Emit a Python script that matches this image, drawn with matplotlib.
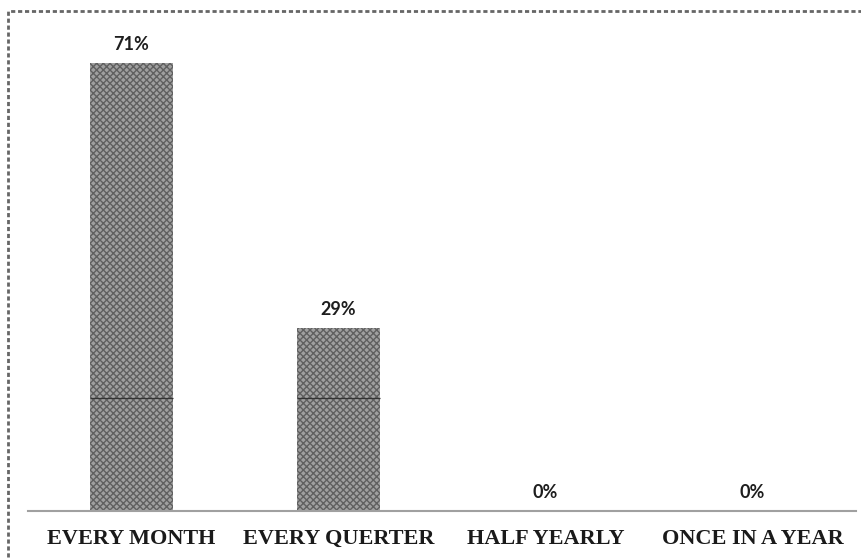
import matplotlib.pyplot as plt
from matplotlib.patches import Rectangle

# как часто проводится — доли ответов
categories = ['EVERY MONTH', 'EVERY QUERTER', 'HALF YEARLY', 'ONCE IN A YEAR']
shares = [71, 29, 0, 0]
value_labels = ['71%', '29%', '0%', '0%']
inner_line_level = 17.9  # тонкая полоска внутри столбиков

fig = plt.figure(figsize=(8.62, 5.6), dpi=100)
ax = fig.add_axes([0.0325, 0.0875, 0.9605, 0.845])

x = range(len(categories))
bars = ax.bar(x, shares, width=0.4, color='#a0a0a0', edgecolor='#606060',
              linewidth=0, hatch='xxxxx')

# полоска поперёк столбиков, если они до неё дотягивают
for b in bars:
    if b.get_height() > inner_line_level:
        ax.hlines(inner_line_level, b.get_x(), b.get_x() + b.get_width(),
                  color='#333333', linewidth=0.9, zorder=3)

# подписи процентов над столбиками
for b, lab in zip(bars, value_labels):
    ax.annotate(lab, (b.get_x() + b.get_width() / 2, b.get_height()),
                xytext=(0, 7), textcoords='offset points', ha='center',
                va='bottom', fontsize=13, fontweight='bold', family='Lato',
                color='#1e1e1e')

ax.set_xlim(-0.5, len(categories) - 0.5)
ax.set_ylim(0, 75)
ax.set_xticks(list(x))
ax.set_xticklabels(categories, family='Liberation Serif', fontweight='bold',
                   fontsize=16, color='#1a1a1a')
ax.tick_params(axis='x', length=0, pad=13)
ax.set_yticks([])
for s in ['top', 'right', 'left']:
    ax.spines[s].set_visible(False)
ax.spines['bottom'].set_color('#a0a0a0')
ax.spines['bottom'].set_linewidth(1.5)

# пунктирная рамка вокруг всего рисунка
fig.patches.append(Rectangle((8 / 862, -0.05), 1.0, 1 - 11 / 560 + 0.05,
                             transform=fig.transFigure, fill=False,
                             edgecolor='#666666', linewidth=2,
                             linestyle=(0, (1.5, 1))))

fig.savefig('out.png', dpi=100)
